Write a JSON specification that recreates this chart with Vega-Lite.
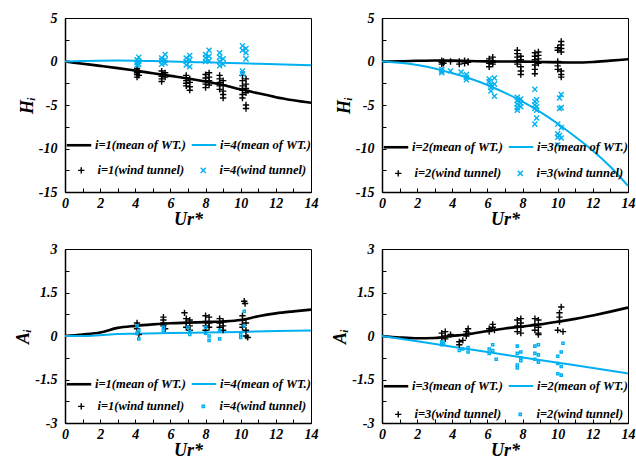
{
  "$schema": "https://vega.github.io/schema/vega-lite/v6.json",
  "padding": {"left": 14, "top": 10, "right": 4, "bottom": 0},
  "background": "white",
  "config": {
    "font": "Liberation Serif",
    "view": {"stroke": "black", "strokeWidth": 1},
    "axis": {"grid": false, "domainColor": "black", "domainWidth": 1.5, "tickColor": "black", "tickWidth": 1, "tickSize": -4,
      "labelFont": "Liberation Serif", "labelFontSize": 14, "labelFontWeight": "bold", "labelFontStyle": "italic", "labelColor": "black",
      "labelFlush": false, "labelOverlap": false, "labelBound": false,
      "titleFont": "Liberation Serif", "titleFontSize": 18, "titleFontWeight": "bold", "titleFontStyle": "italic", "titleColor": "black"},
    "axisX": {"labelPadding": 8, "titlePadding": 0},
    "axisY": {"labelPadding": 12, "titlePadding": 2},
    "legend": {"title": null, "orient": "none", "columns": 2, "padding": 0, "rowPadding": 0,
      "labelFont": "Liberation Serif", "labelFontSize": 12.5, "labelFontWeight": "bold", "labelFontStyle": "italic", "labelColor": "black"}
  },
  "datasets": {
    "l1": [
      {"Ur":0,"v":0,"s":"i=1(mean of WT.)"},{"Ur":1,"v":-0.25,"s":"i=1(mean of WT.)"},{"Ur":2,"v":-0.5,"s":"i=1(mean of WT.)"},{"Ur":3,"v":-0.76,"s":"i=1(mean of WT.)"},{"Ur":4,"v":-1.05,"s":"i=1(mean of WT.)"},{"Ur":5,"v":-1.35,"s":"i=1(mean of WT.)"},{"Ur":6,"v":-1.65,"s":"i=1(mean of WT.)"},{"Ur":7,"v":-1.95,"s":"i=1(mean of WT.)"},{"Ur":8,"v":-2.3,"s":"i=1(mean of WT.)"},{"Ur":9,"v":-2.7,"s":"i=1(mean of WT.)"},{"Ur":10,"v":-3.2,"s":"i=1(mean of WT.)"},{"Ur":11,"v":-3.65,"s":"i=1(mean of WT.)"},{"Ur":12,"v":-4.1,"s":"i=1(mean of WT.)"},{"Ur":13,"v":-4.45,"s":"i=1(mean of WT.)"},{"Ur":14,"v":-4.75,"s":"i=1(mean of WT.)"},
      {"Ur":0,"v":0,"s":"i=4(mean of WT.)"},{"Ur":1,"v":0.05,"s":"i=4(mean of WT.)"},{"Ur":2,"v":0.1,"s":"i=4(mean of WT.)"},{"Ur":3,"v":0.12,"s":"i=4(mean of WT.)"},{"Ur":4,"v":0.1,"s":"i=4(mean of WT.)"},{"Ur":5,"v":0.05,"s":"i=4(mean of WT.)"},{"Ur":6,"v":0,"s":"i=4(mean of WT.)"},{"Ur":7,"v":-0.05,"s":"i=4(mean of WT.)"},{"Ur":8,"v":-0.1,"s":"i=4(mean of WT.)"},{"Ur":9,"v":-0.15,"s":"i=4(mean of WT.)"},{"Ur":10,"v":-0.2,"s":"i=4(mean of WT.)"},{"Ur":11,"v":-0.27,"s":"i=4(mean of WT.)"},{"Ur":12,"v":-0.32,"s":"i=4(mean of WT.)"},{"Ur":13,"v":-0.38,"s":"i=4(mean of WT.)"},{"Ur":14,"v":-0.44,"s":"i=4(mean of WT.)"}
    ],
    "p1": [
      {"Ur":4.1,"v":-0.8,"s":"i=1(wind tunnel)"},{"Ur":4.1,"v":-1.1,"s":"i=1(wind tunnel)"},{"Ur":4.1,"v":-1.3,"s":"i=1(wind tunnel)"},{"Ur":4.1,"v":-1.5,"s":"i=1(wind tunnel)"},{"Ur":4.1,"v":-1.8,"s":"i=1(wind tunnel)"},{"Ur":4.2,"v":-1.2,"s":"i=1(wind tunnel)"},{"Ur":4.2,"v":-1.6,"s":"i=1(wind tunnel)"},
      {"Ur":5.5,"v":-1.1,"s":"i=1(wind tunnel)"},{"Ur":5.5,"v":-1.4,"s":"i=1(wind tunnel)"},{"Ur":5.5,"v":-1.7,"s":"i=1(wind tunnel)"},{"Ur":5.5,"v":-2.0,"s":"i=1(wind tunnel)"},{"Ur":5.5,"v":-2.3,"s":"i=1(wind tunnel)"},{"Ur":5.7,"v":-1.3,"s":"i=1(wind tunnel)"},{"Ur":5.7,"v":-1.8,"s":"i=1(wind tunnel)"},
      {"Ur":6.9,"v":-1.6,"s":"i=1(wind tunnel)"},{"Ur":6.9,"v":-1.9,"s":"i=1(wind tunnel)"},{"Ur":6.9,"v":-2.2,"s":"i=1(wind tunnel)"},{"Ur":6.9,"v":-2.5,"s":"i=1(wind tunnel)"},{"Ur":6.9,"v":-2.8,"s":"i=1(wind tunnel)"},{"Ur":7.1,"v":-2.0,"s":"i=1(wind tunnel)"},{"Ur":7.1,"v":-2.4,"s":"i=1(wind tunnel)"},{"Ur":7.1,"v":-2.9,"s":"i=1(wind tunnel)"},{"Ur":7.1,"v":-3.3,"s":"i=1(wind tunnel)"},
      {"Ur":8.0,"v":-1.5,"s":"i=1(wind tunnel)"},{"Ur":8.0,"v":-1.9,"s":"i=1(wind tunnel)"},{"Ur":8.0,"v":-2.3,"s":"i=1(wind tunnel)"},{"Ur":8.0,"v":-2.6,"s":"i=1(wind tunnel)"},{"Ur":8.0,"v":-3.0,"s":"i=1(wind tunnel)"},{"Ur":8.2,"v":-1.3,"s":"i=1(wind tunnel)"},{"Ur":8.2,"v":-1.8,"s":"i=1(wind tunnel)"},{"Ur":8.2,"v":-2.2,"s":"i=1(wind tunnel)"},{"Ur":8.2,"v":-2.7,"s":"i=1(wind tunnel)"},
      {"Ur":8.8,"v":-1.6,"s":"i=1(wind tunnel)"},{"Ur":8.8,"v":-2.0,"s":"i=1(wind tunnel)"},{"Ur":8.8,"v":-2.4,"s":"i=1(wind tunnel)"},{"Ur":8.8,"v":-2.8,"s":"i=1(wind tunnel)"},{"Ur":8.8,"v":-3.2,"s":"i=1(wind tunnel)"},{"Ur":9.0,"v":-2.2,"s":"i=1(wind tunnel)"},{"Ur":9.0,"v":-2.7,"s":"i=1(wind tunnel)"},{"Ur":9.0,"v":-3.4,"s":"i=1(wind tunnel)"},{"Ur":9.0,"v":-3.8,"s":"i=1(wind tunnel)"},{"Ur":9.0,"v":-4.2,"s":"i=1(wind tunnel)"},
      {"Ur":10.1,"v":-1.6,"s":"i=1(wind tunnel)"},{"Ur":10.1,"v":-2.2,"s":"i=1(wind tunnel)"},{"Ur":10.1,"v":-2.8,"s":"i=1(wind tunnel)"},{"Ur":10.1,"v":-3.3,"s":"i=1(wind tunnel)"},{"Ur":10.1,"v":-3.8,"s":"i=1(wind tunnel)"},{"Ur":10.1,"v":-4.2,"s":"i=1(wind tunnel)"},{"Ur":10.3,"v":-2.0,"s":"i=1(wind tunnel)"},{"Ur":10.3,"v":-2.6,"s":"i=1(wind tunnel)"},{"Ur":10.3,"v":-3.1,"s":"i=1(wind tunnel)"},{"Ur":10.3,"v":-3.6,"s":"i=1(wind tunnel)"},{"Ur":10.3,"v":-5.0,"s":"i=1(wind tunnel)"},{"Ur":10.3,"v":-5.4,"s":"i=1(wind tunnel)"},
      {"Ur":4.1,"v":-0.4,"s":"i=4(wind tunnel)"},{"Ur":4.1,"v":-0.1,"s":"i=4(wind tunnel)"},{"Ur":4.1,"v":0.2,"s":"i=4(wind tunnel)"},{"Ur":4.2,"v":0.5,"s":"i=4(wind tunnel)"},{"Ur":4.2,"v":0,"s":"i=4(wind tunnel)"},{"Ur":4.2,"v":-0.3,"s":"i=4(wind tunnel)"},
      {"Ur":5.5,"v":-0.3,"s":"i=4(wind tunnel)"},{"Ur":5.5,"v":0.1,"s":"i=4(wind tunnel)"},{"Ur":5.5,"v":0.4,"s":"i=4(wind tunnel)"},{"Ur":5.7,"v":0.8,"s":"i=4(wind tunnel)"},{"Ur":5.7,"v":0.2,"s":"i=4(wind tunnel)"},{"Ur":5.7,"v":-0.2,"s":"i=4(wind tunnel)"},
      {"Ur":6.9,"v":-0.4,"s":"i=4(wind tunnel)"},{"Ur":6.9,"v":0,"s":"i=4(wind tunnel)"},{"Ur":6.9,"v":0.4,"s":"i=4(wind tunnel)"},{"Ur":7.1,"v":0.7,"s":"i=4(wind tunnel)"},{"Ur":7.1,"v":0.2,"s":"i=4(wind tunnel)"},{"Ur":7.1,"v":-0.6,"s":"i=4(wind tunnel)"},
      {"Ur":8.0,"v":0,"s":"i=4(wind tunnel)"},{"Ur":8.0,"v":0.4,"s":"i=4(wind tunnel)"},{"Ur":8.0,"v":0.8,"s":"i=4(wind tunnel)"},{"Ur":8.2,"v":1.3,"s":"i=4(wind tunnel)"},{"Ur":8.2,"v":0.6,"s":"i=4(wind tunnel)"},{"Ur":8.2,"v":0.1,"s":"i=4(wind tunnel)"},
      {"Ur":8.8,"v":-0.5,"s":"i=4(wind tunnel)"},{"Ur":8.8,"v":0,"s":"i=4(wind tunnel)"},{"Ur":8.8,"v":0.5,"s":"i=4(wind tunnel)"},{"Ur":8.8,"v":1.0,"s":"i=4(wind tunnel)"},{"Ur":9.0,"v":-0.3,"s":"i=4(wind tunnel)"},{"Ur":9.0,"v":0.3,"s":"i=4(wind tunnel)"},
      {"Ur":10.1,"v":1.8,"s":"i=4(wind tunnel)"},{"Ur":10.1,"v":1.3,"s":"i=4(wind tunnel)"},{"Ur":10.1,"v":-1.1,"s":"i=4(wind tunnel)"},{"Ur":10.1,"v":-1.4,"s":"i=4(wind tunnel)"},{"Ur":10.3,"v":1.5,"s":"i=4(wind tunnel)"},{"Ur":10.3,"v":1.0,"s":"i=4(wind tunnel)"},{"Ur":10.3,"v":0.3,"s":"i=4(wind tunnel)"}
    ],
    "l2": [
      {"Ur":0,"v":0,"s":"i=2(mean of WT.)"},{"Ur":1,"v":0.02,"s":"i=2(mean of WT.)"},{"Ur":2,"v":0.08,"s":"i=2(mean of WT.)"},{"Ur":3,"v":0.12,"s":"i=2(mean of WT.)"},{"Ur":4,"v":0.1,"s":"i=2(mean of WT.)"},{"Ur":5,"v":0.05,"s":"i=2(mean of WT.)"},{"Ur":6,"v":0.02,"s":"i=2(mean of WT.)"},{"Ur":7,"v":0,"s":"i=2(mean of WT.)"},{"Ur":8,"v":-0.02,"s":"i=2(mean of WT.)"},{"Ur":9,"v":-0.05,"s":"i=2(mean of WT.)"},{"Ur":10,"v":-0.1,"s":"i=2(mean of WT.)"},{"Ur":11,"v":-0.12,"s":"i=2(mean of WT.)"},{"Ur":12,"v":-0.05,"s":"i=2(mean of WT.)"},{"Ur":13,"v":0.1,"s":"i=2(mean of WT.)"},{"Ur":14,"v":0.25,"s":"i=2(mean of WT.)"},
      {"Ur":0,"v":0,"s":"i=3(mean of WT.)"},{"Ur":1,"v":-0.15,"s":"i=3(mean of WT.)"},{"Ur":2,"v":-0.4,"s":"i=3(mean of WT.)"},{"Ur":3,"v":-0.8,"s":"i=3(mean of WT.)"},{"Ur":4,"v":-1.35,"s":"i=3(mean of WT.)"},{"Ur":5,"v":-1.95,"s":"i=3(mean of WT.)"},{"Ur":6,"v":-2.7,"s":"i=3(mean of WT.)"},{"Ur":7,"v":-3.6,"s":"i=3(mean of WT.)"},{"Ur":8,"v":-4.6,"s":"i=3(mean of WT.)"},{"Ur":9,"v":-5.8,"s":"i=3(mean of WT.)"},{"Ur":10,"v":-7.15,"s":"i=3(mean of WT.)"},{"Ur":11,"v":-8.65,"s":"i=3(mean of WT.)"},{"Ur":12,"v":-10.25,"s":"i=3(mean of WT.)"},{"Ur":13,"v":-12.1,"s":"i=3(mean of WT.)"},{"Ur":14,"v":-14.3,"s":"i=3(mean of WT.)"}
    ],
    "p2": [
      {"Ur":3.4,"v":0.1,"s":"i=2(wind tunnel)"},{"Ur":3.4,"v":-0.1,"s":"i=2(wind tunnel)"},{"Ur":3.4,"v":-0.3,"s":"i=2(wind tunnel)"},{"Ur":3.5,"v":0,"s":"i=2(wind tunnel)"},{"Ur":3.5,"v":-0.2,"s":"i=2(wind tunnel)"},{"Ur":3.9,"v":0,"s":"i=2(wind tunnel)"},
      {"Ur":4.4,"v":-0.3,"s":"i=2(wind tunnel)"},{"Ur":4.4,"v":0,"s":"i=2(wind tunnel)"},{"Ur":4.7,"v":0.1,"s":"i=2(wind tunnel)"},{"Ur":4.7,"v":-0.2,"s":"i=2(wind tunnel)"},{"Ur":4.9,"v":0,"s":"i=2(wind tunnel)"},{"Ur":4.9,"v":-0.1,"s":"i=2(wind tunnel)"},
      {"Ur":6.1,"v":0.3,"s":"i=2(wind tunnel)"},{"Ur":6.1,"v":-0.2,"s":"i=2(wind tunnel)"},{"Ur":6.1,"v":-0.6,"s":"i=2(wind tunnel)"},{"Ur":6.3,"v":0.5,"s":"i=2(wind tunnel)"},{"Ur":6.3,"v":0.1,"s":"i=2(wind tunnel)"},{"Ur":6.3,"v":-0.3,"s":"i=2(wind tunnel)"},{"Ur":6.3,"v":-0.1,"s":"i=2(wind tunnel)"},
      {"Ur":7.7,"v":1.3,"s":"i=2(wind tunnel)"},{"Ur":7.7,"v":0.9,"s":"i=2(wind tunnel)"},{"Ur":7.7,"v":0.5,"s":"i=2(wind tunnel)"},{"Ur":7.7,"v":0.1,"s":"i=2(wind tunnel)"},{"Ur":7.7,"v":-0.3,"s":"i=2(wind tunnel)"},{"Ur":7.9,"v":0.6,"s":"i=2(wind tunnel)"},{"Ur":7.9,"v":0.2,"s":"i=2(wind tunnel)"},{"Ur":7.9,"v":-0.6,"s":"i=2(wind tunnel)"},{"Ur":7.9,"v":-1.1,"s":"i=2(wind tunnel)"},{"Ur":7.9,"v":-1.5,"s":"i=2(wind tunnel)"},
      {"Ur":8.7,"v":1.0,"s":"i=2(wind tunnel)"},{"Ur":8.7,"v":0.6,"s":"i=2(wind tunnel)"},{"Ur":8.7,"v":0.2,"s":"i=2(wind tunnel)"},{"Ur":8.7,"v":-0.4,"s":"i=2(wind tunnel)"},{"Ur":8.7,"v":-0.9,"s":"i=2(wind tunnel)"},{"Ur":8.7,"v":-1.4,"s":"i=2(wind tunnel)"},{"Ur":8.9,"v":1.1,"s":"i=2(wind tunnel)"},{"Ur":8.9,"v":0.7,"s":"i=2(wind tunnel)"},{"Ur":8.9,"v":0.3,"s":"i=2(wind tunnel)"},{"Ur":8.9,"v":-0.2,"s":"i=2(wind tunnel)"},
      {"Ur":10.0,"v":1.6,"s":"i=2(wind tunnel)"},{"Ur":10.0,"v":1.3,"s":"i=2(wind tunnel)"},{"Ur":10.0,"v":0,"s":"i=2(wind tunnel)"},{"Ur":10.0,"v":-0.5,"s":"i=2(wind tunnel)"},{"Ur":10.0,"v":-0.9,"s":"i=2(wind tunnel)"},{"Ur":10.2,"v":2.3,"s":"i=2(wind tunnel)"},{"Ur":10.2,"v":1.9,"s":"i=2(wind tunnel)"},{"Ur":10.2,"v":1.5,"s":"i=2(wind tunnel)"},{"Ur":10.2,"v":1.1,"s":"i=2(wind tunnel)"},{"Ur":10.2,"v":-1.1,"s":"i=2(wind tunnel)"},{"Ur":10.2,"v":-1.5,"s":"i=2(wind tunnel)"},{"Ur":10.2,"v":-1.8,"s":"i=2(wind tunnel)"},
      {"Ur":3.4,"v":-0.9,"s":"i=3(wind tunnel)"},{"Ur":3.4,"v":-1.1,"s":"i=3(wind tunnel)"},{"Ur":3.4,"v":-1.3,"s":"i=3(wind tunnel)"},{"Ur":3.9,"v":-1.1,"s":"i=3(wind tunnel)"},{"Ur":4.5,"v":-1.2,"s":"i=3(wind tunnel)"},{"Ur":4.8,"v":-1.5,"s":"i=3(wind tunnel)"},{"Ur":4.8,"v":-1.8,"s":"i=3(wind tunnel)"},{"Ur":4.8,"v":-2.1,"s":"i=3(wind tunnel)"},
      {"Ur":6.1,"v":-2.0,"s":"i=3(wind tunnel)"},{"Ur":6.1,"v":-2.3,"s":"i=3(wind tunnel)"},{"Ur":6.2,"v":-2.7,"s":"i=3(wind tunnel)"},{"Ur":6.2,"v":-3.0,"s":"i=3(wind tunnel)"},{"Ur":6.2,"v":-3.4,"s":"i=3(wind tunnel)"},{"Ur":6.4,"v":-1.9,"s":"i=3(wind tunnel)"},{"Ur":6.4,"v":-2.6,"s":"i=3(wind tunnel)"},{"Ur":6.4,"v":-4.0,"s":"i=3(wind tunnel)"},
      {"Ur":7.7,"v":-4.1,"s":"i=3(wind tunnel)"},{"Ur":7.7,"v":-4.5,"s":"i=3(wind tunnel)"},{"Ur":7.7,"v":-4.9,"s":"i=3(wind tunnel)"},{"Ur":7.7,"v":-5.3,"s":"i=3(wind tunnel)"},{"Ur":7.7,"v":-5.6,"s":"i=3(wind tunnel)"},{"Ur":7.9,"v":-4.3,"s":"i=3(wind tunnel)"},{"Ur":7.9,"v":-4.8,"s":"i=3(wind tunnel)"},{"Ur":7.9,"v":-5.2,"s":"i=3(wind tunnel)"},
      {"Ur":8.7,"v":-3.2,"s":"i=3(wind tunnel)"},{"Ur":8.7,"v":-4.6,"s":"i=3(wind tunnel)"},{"Ur":8.7,"v":-5.0,"s":"i=3(wind tunnel)"},{"Ur":8.7,"v":-5.4,"s":"i=3(wind tunnel)"},{"Ur":8.7,"v":-7.2,"s":"i=3(wind tunnel)"},{"Ur":8.8,"v":-4.4,"s":"i=3(wind tunnel)"},{"Ur":8.8,"v":-5.2,"s":"i=3(wind tunnel)"},{"Ur":8.8,"v":-5.6,"s":"i=3(wind tunnel)"},{"Ur":8.8,"v":-6.5,"s":"i=3(wind tunnel)"},
      {"Ur":10.0,"v":-7.2,"s":"i=3(wind tunnel)"},{"Ur":10.0,"v":-8.3,"s":"i=3(wind tunnel)"},{"Ur":10.0,"v":-8.7,"s":"i=3(wind tunnel)"},{"Ur":10.0,"v":-9.6,"s":"i=3(wind tunnel)"},{"Ur":10.1,"v":-4.2,"s":"i=3(wind tunnel)"},{"Ur":10.1,"v":-5.4,"s":"i=3(wind tunnel)"},{"Ur":10.1,"v":-8.5,"s":"i=3(wind tunnel)"},{"Ur":10.2,"v":-3.8,"s":"i=3(wind tunnel)"},{"Ur":10.2,"v":-5.3,"s":"i=3(wind tunnel)"},{"Ur":10.2,"v":-7.6,"s":"i=3(wind tunnel)"},{"Ur":10.2,"v":-8.8,"s":"i=3(wind tunnel)"}
    ],
    "l3": [
      {"Ur":0,"v":0,"s":"i=1(mean of WT.)"},{"Ur":1,"v":0.05,"s":"i=1(mean of WT.)"},{"Ur":2,"v":0.12,"s":"i=1(mean of WT.)"},{"Ur":3,"v":0.28,"s":"i=1(mean of WT.)"},{"Ur":4,"v":0.35,"s":"i=1(mean of WT.)"},{"Ur":5,"v":0.4,"s":"i=1(mean of WT.)"},{"Ur":6,"v":0.44,"s":"i=1(mean of WT.)"},{"Ur":7,"v":0.46,"s":"i=1(mean of WT.)"},{"Ur":8,"v":0.48,"s":"i=1(mean of WT.)"},{"Ur":9,"v":0.5,"s":"i=1(mean of WT.)"},{"Ur":10,"v":0.55,"s":"i=1(mean of WT.)"},{"Ur":11,"v":0.68,"s":"i=1(mean of WT.)"},{"Ur":12,"v":0.78,"s":"i=1(mean of WT.)"},{"Ur":13,"v":0.85,"s":"i=1(mean of WT.)"},{"Ur":14,"v":0.91,"s":"i=1(mean of WT.)"},
      {"Ur":0,"v":0,"s":"i=4(mean of WT.)"},{"Ur":1,"v":0,"s":"i=4(mean of WT.)"},{"Ur":2,"v":0.03,"s":"i=4(mean of WT.)"},{"Ur":3,"v":0.07,"s":"i=4(mean of WT.)"},{"Ur":4,"v":0.08,"s":"i=4(mean of WT.)"},{"Ur":6,"v":0.1,"s":"i=4(mean of WT.)"},{"Ur":8,"v":0.12,"s":"i=4(mean of WT.)"},{"Ur":10,"v":0.14,"s":"i=4(mean of WT.)"},{"Ur":12,"v":0.17,"s":"i=4(mean of WT.)"},{"Ur":14,"v":0.19,"s":"i=4(mean of WT.)"}
    ],
    "p3": [
      {"Ur":4.1,"v":0.45,"s":"i=1(wind tunnel)"},{"Ur":4.1,"v":0.35,"s":"i=1(wind tunnel)"},{"Ur":4.1,"v":0.25,"s":"i=1(wind tunnel)"},{"Ur":4.2,"v":0.05,"s":"i=1(wind tunnel)"},
      {"Ur":5.6,"v":0.65,"s":"i=1(wind tunnel)"},{"Ur":5.6,"v":0.55,"s":"i=1(wind tunnel)"},{"Ur":5.6,"v":0.45,"s":"i=1(wind tunnel)"},{"Ur":5.6,"v":0.35,"s":"i=1(wind tunnel)"},{"Ur":5.7,"v":0.25,"s":"i=1(wind tunnel)"},
      {"Ur":6.8,"v":0.8,"s":"i=1(wind tunnel)"},{"Ur":6.9,"v":0.6,"s":"i=1(wind tunnel)"},{"Ur":6.9,"v":0.45,"s":"i=1(wind tunnel)"},{"Ur":6.9,"v":0.3,"s":"i=1(wind tunnel)"},{"Ur":7.1,"v":0.55,"s":"i=1(wind tunnel)"},{"Ur":7.1,"v":0.35,"s":"i=1(wind tunnel)"},{"Ur":7.1,"v":0.2,"s":"i=1(wind tunnel)"},
      {"Ur":8.0,"v":0.7,"s":"i=1(wind tunnel)"},{"Ur":8.0,"v":0.5,"s":"i=1(wind tunnel)"},{"Ur":8.0,"v":0.35,"s":"i=1(wind tunnel)"},{"Ur":8.0,"v":0.2,"s":"i=1(wind tunnel)"},{"Ur":8.2,"v":0.65,"s":"i=1(wind tunnel)"},{"Ur":8.2,"v":0.45,"s":"i=1(wind tunnel)"},{"Ur":8.2,"v":0.3,"s":"i=1(wind tunnel)"},
      {"Ur":8.8,"v":0.6,"s":"i=1(wind tunnel)"},{"Ur":8.8,"v":0.45,"s":"i=1(wind tunnel)"},{"Ur":8.8,"v":0.3,"s":"i=1(wind tunnel)"},{"Ur":9.0,"v":0.5,"s":"i=1(wind tunnel)"},{"Ur":9.0,"v":0.35,"s":"i=1(wind tunnel)"},{"Ur":9.0,"v":0.2,"s":"i=1(wind tunnel)"},
      {"Ur":10.2,"v":1.2,"s":"i=1(wind tunnel)"},{"Ur":10.25,"v":1.12,"s":"i=1(wind tunnel)"},{"Ur":10.1,"v":0.7,"s":"i=1(wind tunnel)"},{"Ur":10.1,"v":0.55,"s":"i=1(wind tunnel)"},{"Ur":10.1,"v":0.4,"s":"i=1(wind tunnel)"},{"Ur":10.1,"v":0.3,"s":"i=1(wind tunnel)"},{"Ur":10.3,"v":0.45,"s":"i=1(wind tunnel)"},{"Ur":10.3,"v":0.2,"s":"i=1(wind tunnel)"},{"Ur":10.3,"v":0.0,"s":"i=1(wind tunnel)"},{"Ur":10.4,"v":-0.05,"s":"i=1(wind tunnel)"},
      {"Ur":4.1,"v":0.35,"s":"i=4(wind tunnel)"},{"Ur":4.1,"v":0.1,"s":"i=4(wind tunnel)"},{"Ur":4.2,"v":-0.1,"s":"i=4(wind tunnel)"},{"Ur":4.2,"v":0.2,"s":"i=4(wind tunnel)"},
      {"Ur":5.6,"v":0.3,"s":"i=4(wind tunnel)"},{"Ur":5.6,"v":0.2,"s":"i=4(wind tunnel)"},
      {"Ur":7.0,"v":0.3,"s":"i=4(wind tunnel)"},{"Ur":7.1,"v":0.15,"s":"i=4(wind tunnel)"},{"Ur":7.1,"v":0.05,"s":"i=4(wind tunnel)"},
      {"Ur":8.0,"v":0.3,"s":"i=4(wind tunnel)"},{"Ur":8.0,"v":0.1,"s":"i=4(wind tunnel)"},{"Ur":8.2,"v":0.0,"s":"i=4(wind tunnel)"},{"Ur":8.2,"v":-0.15,"s":"i=4(wind tunnel)"},
      {"Ur":8.8,"v":0.2,"s":"i=4(wind tunnel)"},{"Ur":8.8,"v":-0.1,"s":"i=4(wind tunnel)"},
      {"Ur":10.2,"v":0.85,"s":"i=4(wind tunnel)"},{"Ur":10.2,"v":0.35,"s":"i=4(wind tunnel)"},{"Ur":10.0,"v":0.05,"s":"i=4(wind tunnel)"},{"Ur":10.0,"v":-0.05,"s":"i=4(wind tunnel)"}
    ],
    "l4": [
      {"Ur":0,"v":0,"s":"i=3(mean of WT.)"},{"Ur":1,"v":-0.05,"s":"i=3(mean of WT.)"},{"Ur":2,"v":-0.08,"s":"i=3(mean of WT.)"},{"Ur":3,"v":-0.07,"s":"i=3(mean of WT.)"},{"Ur":4,"v":0,"s":"i=3(mean of WT.)"},{"Ur":5,"v":0.07,"s":"i=3(mean of WT.)"},{"Ur":6,"v":0.17,"s":"i=3(mean of WT.)"},{"Ur":7,"v":0.26,"s":"i=3(mean of WT.)"},{"Ur":8,"v":0.33,"s":"i=3(mean of WT.)"},{"Ur":9,"v":0.4,"s":"i=3(mean of WT.)"},{"Ur":10,"v":0.49,"s":"i=3(mean of WT.)"},{"Ur":11,"v":0.59,"s":"i=3(mean of WT.)"},{"Ur":12,"v":0.71,"s":"i=3(mean of WT.)"},{"Ur":13,"v":0.84,"s":"i=3(mean of WT.)"},{"Ur":14,"v":0.98,"s":"i=3(mean of WT.)"},
      {"Ur":0,"v":0,"s":"i=2(mean of WT.)"},{"Ur":2,"v":-0.18,"s":"i=2(mean of WT.)"},{"Ur":4,"v":-0.37,"s":"i=2(mean of WT.)"},{"Ur":6,"v":-0.55,"s":"i=2(mean of WT.)"},{"Ur":8,"v":-0.74,"s":"i=2(mean of WT.)"},{"Ur":10,"v":-0.92,"s":"i=2(mean of WT.)"},{"Ur":12,"v":-1.1,"s":"i=2(mean of WT.)"},{"Ur":14,"v":-1.29,"s":"i=2(mean of WT.)"}
    ],
    "p4": [
      {"Ur":3.4,"v":0.1,"s":"i=3(wind tunnel)"},{"Ur":3.4,"v":-0.05,"s":"i=3(wind tunnel)"},{"Ur":3.6,"v":0.15,"s":"i=3(wind tunnel)"},{"Ur":3.6,"v":0,"s":"i=3(wind tunnel)"},{"Ur":3.6,"v":-0.1,"s":"i=3(wind tunnel)"},{"Ur":3.9,"v":0.05,"s":"i=3(wind tunnel)"},
      {"Ur":4.4,"v":-0.2,"s":"i=3(wind tunnel)"},{"Ur":4.4,"v":-0.3,"s":"i=3(wind tunnel)"},{"Ur":4.6,"v":-0.15,"s":"i=3(wind tunnel)"},{"Ur":4.8,"v":0,"s":"i=3(wind tunnel)"},{"Ur":4.8,"v":0.15,"s":"i=3(wind tunnel)"},{"Ur":4.9,"v":0.25,"s":"i=3(wind tunnel)"},{"Ur":4.9,"v":0.1,"s":"i=3(wind tunnel)"},
      {"Ur":6.1,"v":0.15,"s":"i=3(wind tunnel)"},{"Ur":6.1,"v":0.25,"s":"i=3(wind tunnel)"},{"Ur":6.3,"v":0.3,"s":"i=3(wind tunnel)"},{"Ur":6.3,"v":0.4,"s":"i=3(wind tunnel)"},{"Ur":6.4,"v":0.2,"s":"i=3(wind tunnel)"},
      {"Ur":7.7,"v":0.55,"s":"i=3(wind tunnel)"},{"Ur":7.7,"v":0.35,"s":"i=3(wind tunnel)"},{"Ur":7.7,"v":0.15,"s":"i=3(wind tunnel)"},{"Ur":7.9,"v":0.6,"s":"i=3(wind tunnel)"},{"Ur":7.9,"v":0.45,"s":"i=3(wind tunnel)"},{"Ur":7.9,"v":0.3,"s":"i=3(wind tunnel)"},{"Ur":7.9,"v":0.1,"s":"i=3(wind tunnel)"},
      {"Ur":8.7,"v":0.6,"s":"i=3(wind tunnel)"},{"Ur":8.7,"v":0.4,"s":"i=3(wind tunnel)"},{"Ur":8.7,"v":0.2,"s":"i=3(wind tunnel)"},{"Ur":8.9,"v":0.55,"s":"i=3(wind tunnel)"},{"Ur":8.9,"v":0.3,"s":"i=3(wind tunnel)"},{"Ur":8.9,"v":0.1,"s":"i=3(wind tunnel)"},{"Ur":8.9,"v":0.05,"s":"i=3(wind tunnel)"},
      {"Ur":10.2,"v":1.0,"s":"i=3(wind tunnel)"},{"Ur":10.1,"v":0.8,"s":"i=3(wind tunnel)"},{"Ur":10.1,"v":0.65,"s":"i=3(wind tunnel)"},{"Ur":10.1,"v":0.5,"s":"i=3(wind tunnel)"},{"Ur":10.0,"v":0.2,"s":"i=3(wind tunnel)"},{"Ur":10.3,"v":0.15,"s":"i=3(wind tunnel)"},
      {"Ur":3.4,"v":-0.2,"s":"i=2(wind tunnel)"},{"Ur":3.4,"v":-0.3,"s":"i=2(wind tunnel)"},{"Ur":3.5,"v":-0.25,"s":"i=2(wind tunnel)"},
      {"Ur":4.4,"v":-0.5,"s":"i=2(wind tunnel)"},{"Ur":4.6,"v":-0.45,"s":"i=2(wind tunnel)"},{"Ur":4.9,"v":-0.4,"s":"i=2(wind tunnel)"},{"Ur":4.9,"v":-0.55,"s":"i=2(wind tunnel)"},
      {"Ur":6.1,"v":-0.45,"s":"i=2(wind tunnel)"},{"Ur":6.1,"v":-0.6,"s":"i=2(wind tunnel)"},{"Ur":6.3,"v":-0.3,"s":"i=2(wind tunnel)"},{"Ur":6.3,"v":-0.5,"s":"i=2(wind tunnel)"},{"Ur":6.5,"v":-0.8,"s":"i=2(wind tunnel)"},
      {"Ur":7.7,"v":-0.35,"s":"i=2(wind tunnel)"},{"Ur":7.7,"v":-0.6,"s":"i=2(wind tunnel)"},{"Ur":7.7,"v":-1.0,"s":"i=2(wind tunnel)"},{"Ur":7.7,"v":-1.1,"s":"i=2(wind tunnel)"},{"Ur":7.9,"v":-0.55,"s":"i=2(wind tunnel)"},{"Ur":7.9,"v":-0.75,"s":"i=2(wind tunnel)"},{"Ur":7.9,"v":-0.85,"s":"i=2(wind tunnel)"},
      {"Ur":8.7,"v":-0.35,"s":"i=2(wind tunnel)"},{"Ur":8.7,"v":-0.6,"s":"i=2(wind tunnel)"},{"Ur":8.7,"v":-0.8,"s":"i=2(wind tunnel)"},{"Ur":8.9,"v":-0.3,"s":"i=2(wind tunnel)"},{"Ur":8.9,"v":-0.65,"s":"i=2(wind tunnel)"},{"Ur":8.9,"v":-0.9,"s":"i=2(wind tunnel)"},
      {"Ur":10.0,"v":-0.7,"s":"i=2(wind tunnel)"},{"Ur":10.0,"v":-0.95,"s":"i=2(wind tunnel)"},{"Ur":10.0,"v":-1.3,"s":"i=2(wind tunnel)"},{"Ur":10.2,"v":-0.55,"s":"i=2(wind tunnel)"},{"Ur":10.2,"v":-1.05,"s":"i=2(wind tunnel)"},{"Ur":10.2,"v":-1.35,"s":"i=2(wind tunnel)"},{"Ur":10.3,"v":-0.25,"s":"i=2(wind tunnel)"}
    ]
  },
  "columns": 2,
  "spacing": {"row": 57, "column": 71},
  "bounds": "flush",
  "resolve": {"scale": {"x": "independent", "y": "independent", "color": "independent", "stroke": "independent", "shape": "independent", "strokeWidth": "independent"}},
  "concat": [
    {
      "width": 246, "height": 174,
      "encoding": {
        "x": {"field": "Ur", "type": "quantitative", "title": "Ur*", "scale": {"domain": [0, 14], "nice": false, "zero": false}, "axis": {"values": [0,1,2,3,4,5,6,7,8,9,10,11,12,13,14], "labelOverlap": false, "labelExpr": "datum.value % 2 === 0 ? '' + datum.value : ''"}},
        "y": {"field": "v", "type": "quantitative", "title": "Hᵢ", "scale": {"domain": [-15, 5], "nice": false}, "axis": {"values": [-15,-12.5,-10,-7.5,-5,-2.5,0,2.5,5], "labelOverlap": false, "labelExpr": "datum.value % 5 === 0 ? '' + datum.value : ''"}}
      },
      "layer": [
        {
          "data": {"name": "l1"},
          "mark": {"type": "line", "interpolate": "monotone"},
          "encoding": {
            "stroke": {"field": "s", "type": "nominal", "scale": {"domain": ["i=1(mean of WT.)", "i=4(mean of WT.)"], "range": ["#000000", "#00B0F0"]},
              "legend": {"legendX": 0, "legendY": 113, "symbolType": "stroke", "symbolSize": 600, "symbolStrokeWidth": 2.5, "labelOffset": 2, "columnPadding": 0}},
            "strokeWidth": {"field": "s", "type": "nominal", "scale": {"domain": ["i=1(mean of WT.)", "i=4(mean of WT.)"], "range": [2.6, 2]}, "legend": null}
          }
        },
        {
          "data": {"name": "p1"},
          "mark": {"type": "point", "filled": false, "strokeWidth": 1.4, "size": 40, "opacity": 1},
          "encoding": {
            "color": {"field": "s", "type": "nominal", "scale": {"domain": ["i=1(wind tunnel)", "i=4(wind tunnel)"], "range": ["#000000", "#00B0F0"]},
              "legend": {"legendX": 10, "legendY": 146, "symbolSize": 40, "symbolStrokeWidth": 1.4, "labelOffset": 10, "columnPadding": 12}},
            "shape": {"field": "s", "type": "nominal", "scale": {"domain": ["i=1(wind tunnel)", "i=4(wind tunnel)"], "range": ["M-1,0H1M0,-1V1", "M-0.8,-0.8L0.8,0.8M-0.8,0.8L0.8,-0.8"]},
              "legend": {"legendX": 10, "legendY": 146, "symbolSize": 40, "symbolStrokeWidth": 1.4, "labelOffset": 10, "columnPadding": 12}}
          }
        }
      ]
    },
    {
      "width": 246, "height": 174,
      "encoding": {
        "x": {"field": "Ur", "type": "quantitative", "title": "Ur*", "scale": {"domain": [0, 14], "nice": false, "zero": false}, "axis": {"values": [0,1,2,3,4,5,6,7,8,9,10,11,12,13,14], "labelOverlap": false, "labelExpr": "datum.value % 2 === 0 ? '' + datum.value : ''"}},
        "y": {"field": "v", "type": "quantitative", "title": "Hᵢ", "scale": {"domain": [-15, 5], "nice": false}, "axis": {"values": [-15,-12.5,-10,-7.5,-5,-2.5,0,2.5,5], "labelOverlap": false, "labelExpr": "datum.value % 5 === 0 ? '' + datum.value : ''"}}
      },
      "layer": [
        {
          "data": {"name": "l2"},
          "mark": {"type": "line", "interpolate": "monotone"},
          "encoding": {
            "stroke": {"field": "s", "type": "nominal", "scale": {"domain": ["i=2(mean of WT.)", "i=3(mean of WT.)"], "range": ["#000000", "#00B0F0"]},
              "legend": {"legendX": 0, "legendY": 115, "symbolType": "stroke", "symbolSize": 600, "symbolStrokeWidth": 2.5, "labelOffset": 2, "columnPadding": 0}},
            "strokeWidth": {"field": "s", "type": "nominal", "scale": {"domain": ["i=2(mean of WT.)", "i=3(mean of WT.)"], "range": [2.6, 2]}, "legend": null}
          }
        },
        {
          "data": {"name": "p2"},
          "mark": {"type": "point", "filled": false, "strokeWidth": 1.4, "size": 40, "opacity": 1},
          "encoding": {
            "color": {"field": "s", "type": "nominal", "scale": {"domain": ["i=2(wind tunnel)", "i=3(wind tunnel)"], "range": ["#000000", "#00B0F0"]},
              "legend": {"legendX": 10, "legendY": 149, "symbolSize": 40, "symbolStrokeWidth": 1.4, "labelOffset": 10, "columnPadding": 12}},
            "shape": {"field": "s", "type": "nominal", "scale": {"domain": ["i=2(wind tunnel)", "i=3(wind tunnel)"], "range": ["M-1,0H1M0,-1V1", "M-0.8,-0.8L0.8,0.8M-0.8,0.8L0.8,-0.8"]},
              "legend": {"legendX": 10, "legendY": 149, "symbolSize": 40, "symbolStrokeWidth": 1.4, "labelOffset": 10, "columnPadding": 12}}
          }
        }
      ]
    },
    {
      "width": 246, "height": 174,
      "encoding": {
        "x": {"field": "Ur", "type": "quantitative", "title": "Ur*", "scale": {"domain": [0, 14], "nice": false, "zero": false}, "axis": {"values": [0,1,2,3,4,5,6,7,8,9,10,11,12,13,14], "labelOverlap": false, "labelExpr": "datum.value % 2 === 0 ? '' + datum.value : ''"}},
        "y": {"field": "v", "type": "quantitative", "title": "Aᵢ", "scale": {"domain": [-3, 3], "nice": false}, "axis": {"values": [-3,-2.25,-1.5,-0.75,0,0.75,1.5,2.25,3], "labelOverlap": false, "labelExpr": "datum.value % 1.5 === 0 ? '' + datum.value : ''"}}
      },
      "layer": [
        {
          "data": {"name": "l3"},
          "mark": {"type": "line", "interpolate": "monotone"},
          "encoding": {
            "stroke": {"field": "s", "type": "nominal", "scale": {"domain": ["i=1(mean of WT.)", "i=4(mean of WT.)"], "range": ["#000000", "#00B0F0"]},
              "legend": {"legendX": 0, "legendY": 121, "symbolType": "stroke", "symbolSize": 600, "symbolStrokeWidth": 2.5, "labelOffset": 2, "columnPadding": 0}},
            "strokeWidth": {"field": "s", "type": "nominal", "scale": {"domain": ["i=1(mean of WT.)", "i=4(mean of WT.)"], "range": [2.6, 2]}, "legend": null}
          }
        },
        {
          "data": {"name": "p3"},
          "mark": {"type": "point", "filled": false, "strokeWidth": 1.4, "size": 40, "opacity": 1},
          "encoding": {
            "color": {"field": "s", "type": "nominal", "scale": {"domain": ["i=1(wind tunnel)", "i=4(wind tunnel)"], "range": ["#000000", "#00B0F0"]},
              "legend": {"legendX": 10, "legendY": 151, "symbolSize": 40, "symbolStrokeWidth": 1.4, "labelOffset": 10, "columnPadding": 12}},
            "shape": {"field": "s", "type": "nominal", "scale": {"domain": ["i=1(wind tunnel)", "i=4(wind tunnel)"], "range": ["M-1,0H1M0,-1V1", "M-0.35,-0.35H0.35V0.35H-0.35Z"]},
              "legend": {"legendX": 10, "legendY": 151, "symbolSize": 40, "symbolStrokeWidth": 1.4, "labelOffset": 10, "columnPadding": 12}}
          }
        }
      ]
    },
    {
      "width": 246, "height": 174,
      "encoding": {
        "x": {"field": "Ur", "type": "quantitative", "title": "Ur*", "scale": {"domain": [0, 14], "nice": false, "zero": false}, "axis": {"values": [0,1,2,3,4,5,6,7,8,9,10,11,12,13,14], "labelOverlap": false, "labelExpr": "datum.value % 2 === 0 ? '' + datum.value : ''"}},
        "y": {"field": "v", "type": "quantitative", "title": "Aᵢ", "scale": {"domain": [-3, 3], "nice": false}, "axis": {"values": [-3,-2.25,-1.5,-0.75,0,0.75,1.5,2.25,3], "labelOverlap": false, "labelExpr": "datum.value % 1.5 === 0 ? '' + datum.value : ''"}}
      },
      "layer": [
        {
          "data": {"name": "l4"},
          "mark": {"type": "line", "interpolate": "monotone"},
          "encoding": {
            "stroke": {"field": "s", "type": "nominal", "scale": {"domain": ["i=3(mean of WT.)", "i=2(mean of WT.)"], "range": ["#000000", "#00B0F0"]},
              "legend": {"legendX": 0, "legendY": 123, "symbolType": "stroke", "symbolSize": 600, "symbolStrokeWidth": 2.5, "labelOffset": 2, "columnPadding": 0}},
            "strokeWidth": {"field": "s", "type": "nominal", "scale": {"domain": ["i=3(mean of WT.)", "i=2(mean of WT.)"], "range": [2.6, 2]}, "legend": null}
          }
        },
        {
          "data": {"name": "p4"},
          "mark": {"type": "point", "filled": false, "strokeWidth": 1.4, "size": 40, "opacity": 1},
          "encoding": {
            "color": {"field": "s", "type": "nominal", "scale": {"domain": ["i=3(wind tunnel)", "i=2(wind tunnel)"], "range": ["#000000", "#00B0F0"]},
              "legend": {"legendX": 10, "legendY": 159, "symbolSize": 40, "symbolStrokeWidth": 1.4, "labelOffset": 10, "columnPadding": 12}},
            "shape": {"field": "s", "type": "nominal", "scale": {"domain": ["i=3(wind tunnel)", "i=2(wind tunnel)"], "range": ["M-1,0H1M0,-1V1", "M-0.35,-0.35H0.35V0.35H-0.35Z"]},
              "legend": {"legendX": 10, "legendY": 159, "symbolSize": 40, "symbolStrokeWidth": 1.4, "labelOffset": 10, "columnPadding": 12}}
          }
        }
      ]
    }
  ]
}
